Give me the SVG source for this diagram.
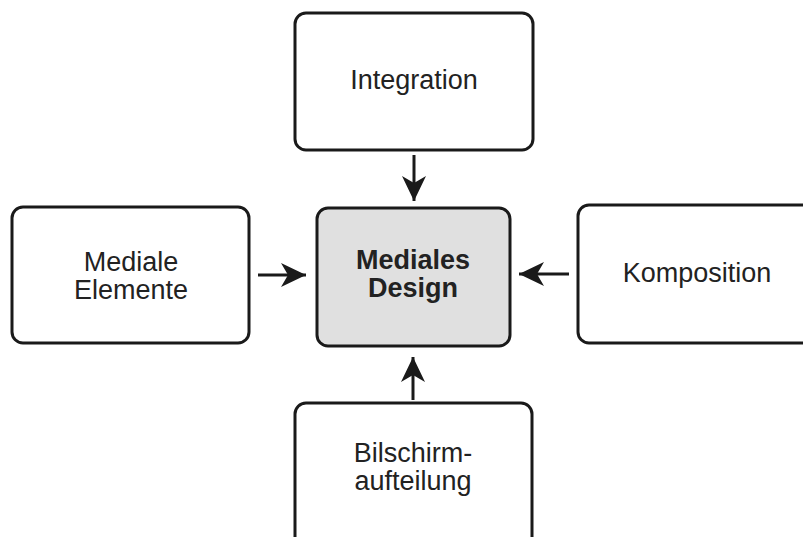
<svg xmlns="http://www.w3.org/2000/svg" width="803" height="537" viewBox="0 0 803 537">
<defs>
<marker id="ah" markerUnits="userSpaceOnUse" markerWidth="28" markerHeight="26" viewBox="0 0 28 26" refX="25" refY="13" orient="auto">
<path d="M0,1 L25,13 L0,25 L7,13 Z" fill="#1a1a1a"/>
</marker>
</defs>
<style>
.box{fill:#fff;stroke:#1a1a1a;stroke-width:3}
.center{fill:#e0e0e0;stroke:#1a1a1a;stroke-width:3}
.t{font-family:"Liberation Sans",Arial,sans-serif;font-size:27px;fill:#222;text-anchor:middle}
.b{font-weight:bold}
.c{stroke:#1a1a1a;stroke-width:3;fill:none;marker-end:url(#ah)}
</style>
<rect width="803" height="537" fill="#fff"/>
<g id="integration">
<rect class="box" x="295" y="13" width="238" height="137" rx="11"/>
<text class="t" x="414" y="89">Integration</text>
</g>
<g id="mediale-elemente">
<rect class="box" x="12" y="207" width="237" height="136" rx="11"/>
<text class="t" x="131" y="271">Mediale</text>
<text class="t" x="131" y="299">Elemente</text>
</g>
<g id="mediales-design">
<rect class="center" x="317" y="208" width="193" height="138" rx="11"/>
<text class="t b" x="413" y="269">Mediales</text>
<text class="t b" x="413" y="297">Design</text>
</g>
<g id="komposition">
<rect class="box" x="578" y="205" width="240" height="138" rx="11"/>
<text class="t" x="697" y="282">Komposition</text>
</g>
<g id="bildschirmaufteilung">
<rect class="box" x="295" y="403" width="237" height="150" rx="11"/>
<text class="t" x="413" y="462">Bilschirm-</text>
<text class="t" x="413" y="490">aufteilung</text>
</g>
<g id="connectors">
<line class="c" x1="414" y1="155" x2="414" y2="201"/>
<line class="c" x1="258" y1="275" x2="306" y2="275"/>
<line class="c" x1="569" y1="274" x2="519" y2="274"/>
<line class="c" x1="413" y1="400" x2="413" y2="357"/>
</g>
</svg>
